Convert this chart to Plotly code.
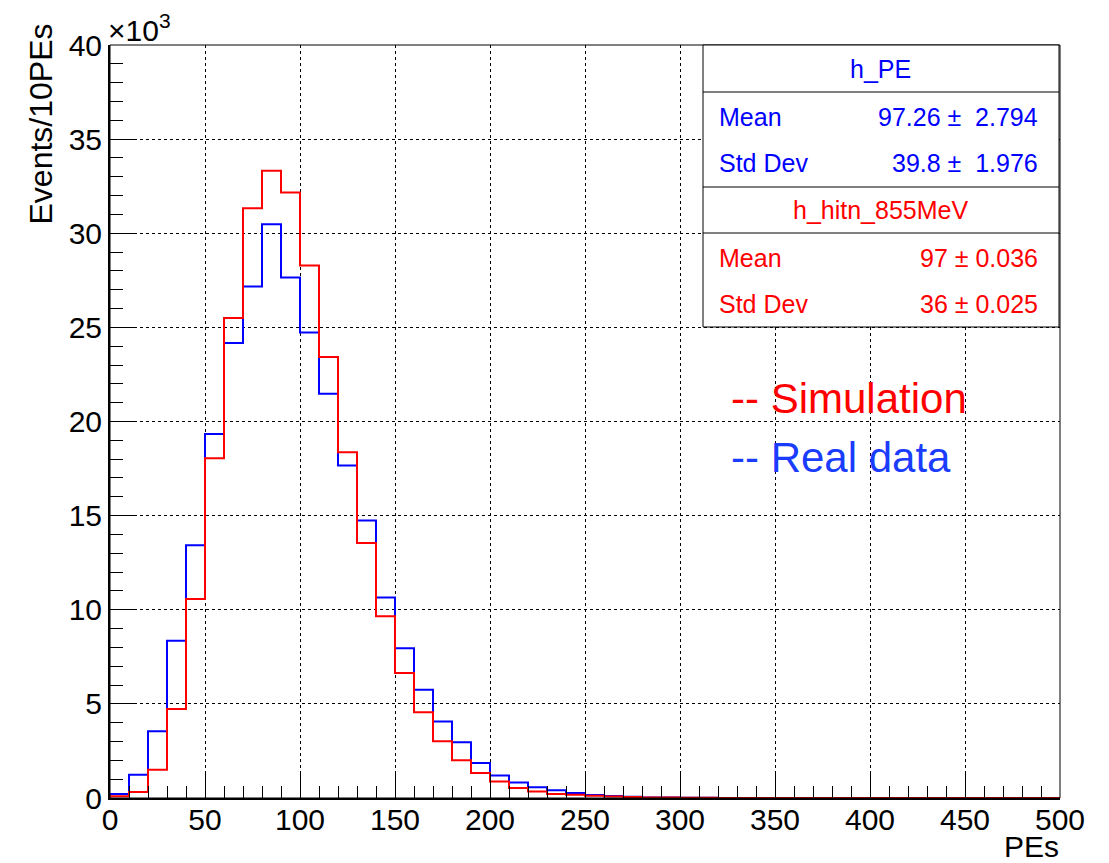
import plotly.graph_objects as go

# bin edges (PEs) and contents (in units of 10^3 events per 10 PEs)
bin_edges = list(range(0, 510, 10))
real_data = [0.21, 1.24, 3.54, 8.35, 13.42, 19.33, 24.17, 27.17, 30.48, 27.65,
             24.73, 21.47, 17.66, 14.74, 10.65, 7.96, 5.75, 4.07, 2.96, 1.86,
             1.20, 0.83, 0.57, 0.41, 0.27, 0.16, 0.10, 0.06, 0.03, 0.02,
             0.01, 0.01, 0.005, 0.005, 0, 0, 0, 0, 0, 0,
             0, 0, 0, 0, 0, 0, 0, 0, 0, 0]
simulation = [0.09, 0.32, 1.50, 4.73, 10.57, 18.05, 25.50, 31.33, 33.32, 32.16,
              28.29, 23.43, 18.37, 13.54, 9.65, 6.64, 4.55, 3.01, 2.00, 1.33,
              0.88, 0.53, 0.35, 0.21, 0.17, 0.12, 0.08, 0.05, 0.03, 0.02,
              0.01, 0.01, 0.005, 0.005, 0.002, 0.002, 0.001, 0.001, 0.001, 0.001,
              0, 0, 0, 0, 0, 0, 0, 0, 0, 0]

x_ticks = list(range(0, 550, 50))
y_ticks = list(range(0, 45, 5))

stats_blue = [("Mean", "97.26 \u00b1  2.794"), ("Std Dev", "39.8 \u00b1  1.976")]
stats_red = [("Mean", "97 \u00b1 0.036"), ("Std Dev", "36 \u00b1 0.025")]

RED = "#ff0000"
BLUE = "#0000ff"
FONT = "Liberation Sans, Arial, Helvetica, sans-serif"


def step_xy(edges, vals):
    xs = [edges[0]] + list(edges[:-1]) + [edges[-1], edges[-1]]
    ys = [0] + list(vals) + [vals[-1], 0]
    return xs, ys


fig = go.Figure()
bx, by = step_xy(bin_edges, real_data)
fig.add_trace(go.Scatter(x=bx, y=by, mode="lines", line=dict(color=BLUE, width=2, shape="hv"),
                         name="h_PE", showlegend=False))
rx, ry = step_xy(bin_edges, simulation)
fig.add_trace(go.Scatter(x=rx, y=ry, mode="lines", line=dict(color=RED, width=2, shape="hv"),
                         name="h_hitn_855MeV", showlegend=False))

W, H = 1109, 863
L, R, T, B = 110, 49, 45, 65
pw, ph = W - L - R, H - T - B


def px(xp):
    return (xp - L) / pw


def py(yp):
    return (H - B - yp) / ph


fig.update_layout(
    width=W, height=H,
    margin=dict(l=L, r=R, t=T, b=B),
    paper_bgcolor="white", plot_bgcolor="white",
    font=dict(family=FONT, size=30, color="black"),
    xaxis=dict(range=[0, 500], tickvals=x_ticks, ticktext=[str(v) for v in x_ticks],
               ticks="inside", ticklen=25, tickwidth=1, tickcolor="black",
               minor=dict(dtick=10, ticks="inside", ticklen=12, tickwidth=1, tickcolor="black",
                          showgrid=False),
               showgrid=True, gridcolor="black", griddash="dot", gridwidth=1,
               showline=True, linecolor="black", linewidth=2, zeroline=False,
               tickfont=dict(size=30), ticklabelstandoff=-6),
    yaxis=dict(range=[0, 40], tickvals=y_ticks, ticktext=[str(v) for v in y_ticks],
               ticks="inside", ticklen=25, tickwidth=1, tickcolor="black",
               minor=dict(dtick=1, ticks="inside", ticklen=13, tickwidth=1, tickcolor="black",
                          showgrid=False),
               showgrid=True, gridcolor="black", griddash="dot", gridwidth=1,
               showline=True, linecolor="black", linewidth=2, zeroline=False,
               tickfont=dict(size=30)),
)

shapes = []
# frame
shapes.append(dict(type="rect", xref="paper", yref="paper", x0=0, x1=1, y0=0, y1=1,
                   line=dict(color="black", width=1)))
# stats box
bx0, bx1 = px(703), px(1059)
shapes.append(dict(type="rect", xref="paper", yref="paper", x0=bx0, x1=bx1, y0=py(327), y1=py(45),
                   fillcolor="white", line=dict(color="black", width=1), layer="above"))
for yy in (92, 187, 233):
    shapes.append(dict(type="line", xref="paper", yref="paper", x0=bx0, x1=bx1, y0=py(yy), y1=py(yy),
                       line=dict(color="black", width=1), layer="above"))
fig.update_layout(shapes=shapes)

ann = []


def text(x, y, s, color, size, xanchor="center", **kw):
    ann.append(dict(x=px(x), y=py(y), xref="paper", yref="paper", text=s, showarrow=False,
                    xanchor=xanchor, yanchor="middle", font=dict(color=color, size=size, family=FONT), **kw))


SS = 25
text(880, 69, "h_PE", BLUE, SS)
for (lab, val), yy in zip(stats_blue, (117, 163)):
    text(717, yy, lab, BLUE, SS, "left")
    text(1040, yy, val, BLUE, SS, "right")
text(880, 210, "h_hitn_855MeV", RED, SS)
for (lab, val), yy in zip(stats_red, (258, 304)):
    text(717, yy, lab, RED, SS, "left")
    text(1040, yy, val, RED, SS, "right")

text(729, 398, "-- Simulation", RED, 42, "left")
text(729, 458, "-- Real data", "#1a3cff", 42, "left")

text(106, 28, "\u00d710<sup>3</sup>", "black", 30, "left")
ann.append(dict(x=px(40), y=py(22), xref="paper", yref="paper", text="Events/10PEs", showarrow=False,
                textangle=-90, xanchor="center", yanchor="top", font=dict(size=32, family=FONT)))
ann.append(dict(x=px(1061), y=py(846), xref="paper", yref="paper", text="PEs", showarrow=False,
                xanchor="right", yanchor="middle", font=dict(size=30, family=FONT)))
fig.update_layout(annotations=ann)

fig.write_html("out.html")
